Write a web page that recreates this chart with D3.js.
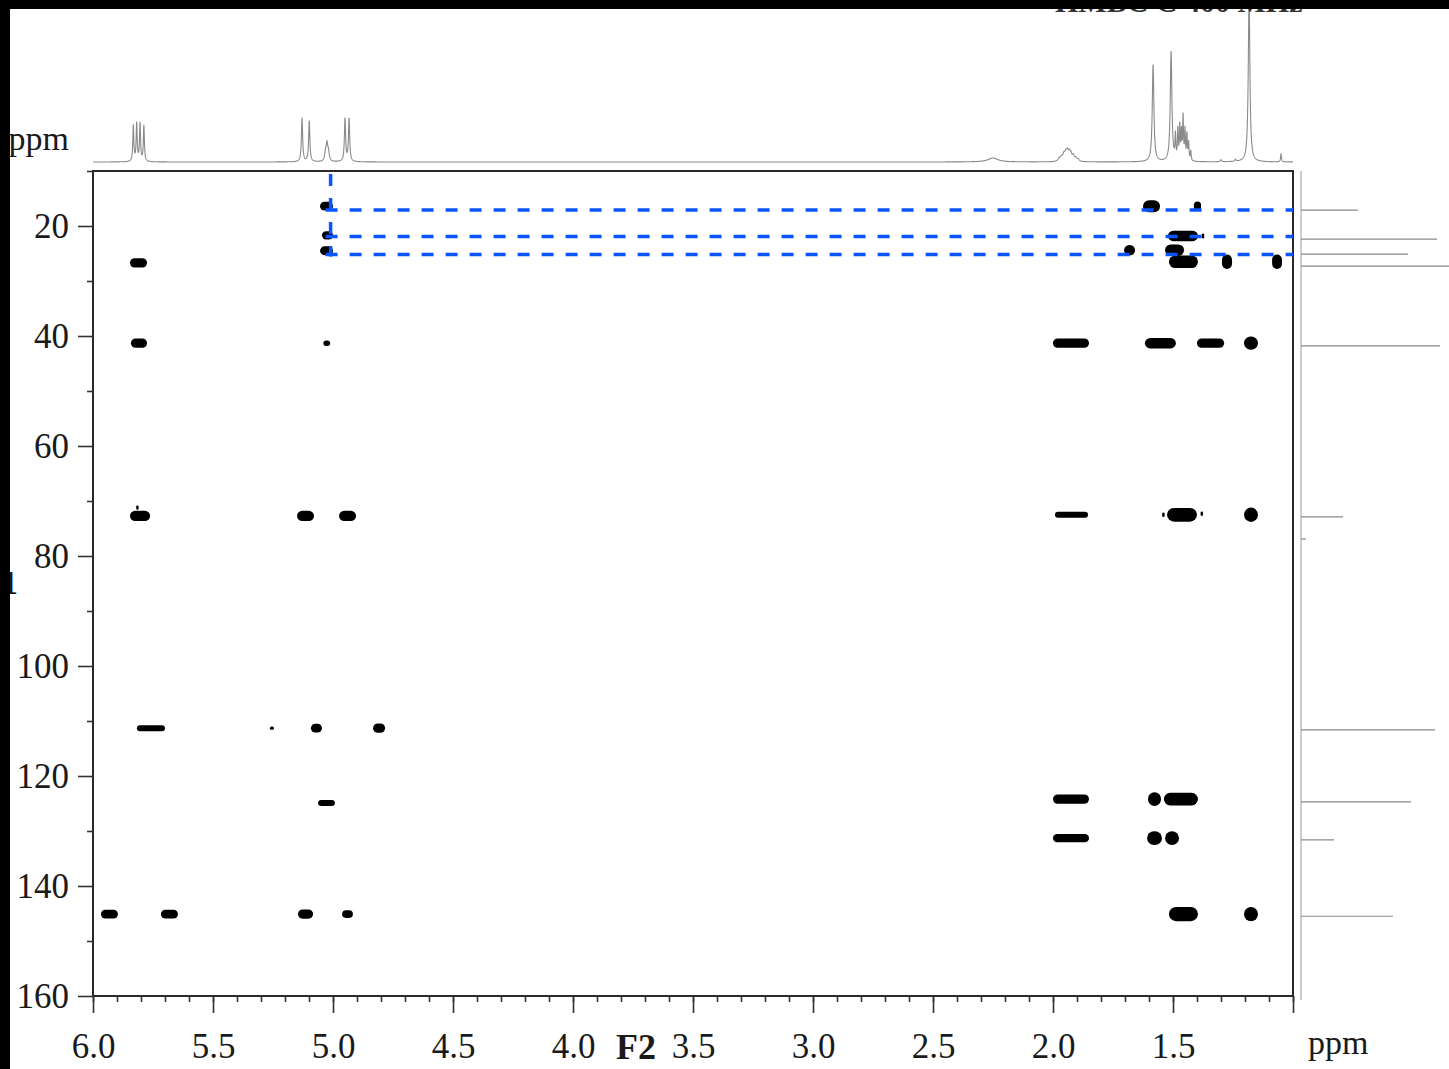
<!DOCTYPE html>
<html><head><meta charset="utf-8">
<script src="https://cdn.jsdelivr.net/npm/d3@7"></script>
<style>html,body{margin:0;padding:0;background:#fff;overflow:hidden}</style>
</head><body>
<svg id="c" width="1449" height="1069"></svg>
<script>
// ---------- data (ppm) ----------
const f2MajorTicks = [6.0, 5.5, 5.0, 4.5, 4.0, 3.5, 3.0, 2.5, 2.0, 1.5, 1.0];
const f2TickLabels = ["6.0", "5.5", "5.0", "4.5", "4.0", "3.5", "3.0", "2.5", "2.0", "1.5", ""];
const f1MajorTicks = [20, 40, 60, 80, 100, 120, 140, 160];
const f1TickLabels = ["20", "40", "60", "80", "100", "120", "140", "160"];

// 1H projection (top): shift, intensity, half width
const protonShifts  = [5.832, 5.818, 5.804, 5.788, 5.129, 5.099, 5.031, 5.025, 5.019, 4.950, 4.933,
                       2.250, 1.975, 1.965, 1.955, 1.947, 1.940, 1.932, 1.925, 1.915, 1.905, 1.895,
                       1.583, 1.508, 1.490, 1.480, 1.472, 1.465, 1.458, 1.450, 1.442, 1.435, 1.426, 1.300, 1.240, 1.183, 1.050];
const protonHeights = [36, 38, 38, 36, 44, 41, 8, 16, 8, 43, 43,
                       4, 3, 4, 6, 7, 8, 7, 6, 5, 3, 2,
                       97, 110, 24, 30, 34, 28, 44, 30, 26, 18, 10, 2, 2, 165, 8];
const protonWidths  = [0.0025, 0.0025, 0.0025, 0.0025, 0.003, 0.003, 0.004, 0.004, 0.004, 0.003, 0.003,
                       0.025, 0.005, 0.005, 0.005, 0.005, 0.005, 0.005, 0.005, 0.005, 0.005, 0.005,
                       0.004, 0.004, 0.002, 0.002, 0.002, 0.002, 0.002, 0.002, 0.002, 0.002, 0.002, 0.003, 0.003, 0.004, 0.002];

// 13C projection (right)
const carbonShifts  = [17.1, 22.4, 25.1, 27.3, 41.8, 72.9, 76.9, 111.6, 124.7, 131.6, 145.5];
const carbonHeights = [57, 136, 107, 160, 139, 42, 5, 134, 110, 33, 92];

// HMBC cross peaks: [F2 start, F2 end, F1, F1 linewidth]
const crossPeaks = [
  [5.846, 5.775, 26.7, 1.7], [5.842, 5.775, 41.3, 1.7], [5.846, 5.762, 72.7, 1.9], [5.82, 5.81, 71.2, 0.8],
  [5.817, 5.700, 111.3, 1.1], [5.967, 5.896, 145.1, 1.6], [5.717, 5.646, 145.1, 1.6],
  [5.054, 5.000, 16.4, 1.6], [5.046, 5.000, 21.7, 1.5], [5.054, 5.000, 24.5, 1.6], [5.040, 5.012, 41.3, 1.0],
  [5.150, 5.079, 72.7, 1.9], [4.975, 4.904, 72.7, 1.9], [5.146, 5.083, 145.1, 1.7], [4.962, 4.917, 145.1, 1.4],
  [5.263, 5.246, 111.3, 0.6], [5.092, 5.046, 111.3, 1.6], [4.833, 4.783, 111.3, 1.7], [5.062, 4.992, 124.9, 1.1],
  [1.625, 1.554, 16.4, 2.2], [1.413, 1.383, 16.4, 1.7],
  [1.521, 1.396, 21.8, 1.9], [1.380, 1.370, 21.8, 0.9],
  [1.704, 1.658, 24.4, 1.9], [1.533, 1.454, 24.4, 2.1],
  [1.517, 1.396, 26.5, 2.3], [1.296, 1.254, 26.5, 2.6], [1.087, 1.046, 26.5, 2.6],
  [2.000, 1.850, 41.3, 1.7], [1.617, 1.488, 41.3, 1.9], [1.400, 1.287, 41.3, 1.7], [1.204, 1.146, 41.3, 2.4],
  [1.992, 1.854, 72.5, 1.1], [1.545, 1.535, 72.5, 0.8], [1.525, 1.400, 72.5, 2.5], [1.385, 1.375, 72.3, 0.8], [1.204, 1.146, 72.5, 2.6],
  [2.000, 1.850, 124.2, 1.7], [1.604, 1.550, 124.2, 2.5], [1.538, 1.396, 124.2, 2.3],
  [2.000, 1.850, 131.3, 1.5], [1.608, 1.546, 131.3, 2.5], [1.533, 1.475, 131.3, 2.5],
  [1.517, 1.396, 145.1, 2.6], [1.204, 1.146, 145.1, 2.6]
];

// highlighted correlations (blue dashed guides)
const guideF2 = 5.01;
const guideF1 = [17.1, 21.9, 25.2];

// ---------- drawing ----------
const svg = d3.select("#c");
const serif = "'Liberation Serif','Times New Roman',serif";
const x = d3.scaleLinear().domain([6.0, 1.0]).range([93, 1293]);
const y = d3.scaleLinear().domain([10, 160]).range([171, 996]);

svg.append("rect").attr("width", 1449).attr("height", 1069).attr("fill", "#fff");

// top 1H trace
const hScale = d3.scaleLinear().domain([0, 100]).range([162, 62]);
const samples = d3.range(6.0, 0.9999, -0.0007);
const trace = samples.map(p => {
  let s = 0;
  for (let i = 0; i < protonShifts.length; i++) {
    const d = (p - protonShifts[i]) / protonWidths[i];
    s += protonHeights[i] / (1 + d * d);
  }
  return [p, s];
});
svg.append("path").datum(trace)
  .attr("fill", "none").attr("stroke", "#8a8a8a").attr("stroke-width", 1.1)
  .attr("d", d3.line().x(d => x(d[0])).y(d => Math.max(0, hScale(d[1]))));

// right 13C projection
const cScale = d3.scaleLinear().domain([0, 100]).range([1301, 1401]);
svg.append("line").attr("x1", cScale(0)).attr("x2", cScale(0)).attr("y1", y(10)).attr("y2", y(160) + 4)
  .attr("stroke", "#999").attr("stroke-width", 1);
svg.append("g").selectAll("line").data(carbonShifts).join("line")
  .attr("x1", cScale(0)).attr("x2", (d, i) => cScale(carbonHeights[i]))
  .attr("y1", d => y(d)).attr("y2", d => y(d))
  .attr("stroke", "#8a8a8a").attr("stroke-width", 1.2);

// axes
const xAxis = svg.append("g").attr("transform", `translate(0,${y(160)})`)
  .call(d3.axisBottom(x).tickValues(f2MajorTicks).tickSize(17).tickSizeOuter(0).tickPadding(20)
    .tickFormat((d, i) => f2TickLabels[i]));
const xMinor = svg.append("g").attr("transform", `translate(0,${y(160)})`)
  .call(d3.axisBottom(x).tickValues(d3.range(60, 9, -1).map(v => v / 10)).tickSize(6).tickSizeOuter(0).tickFormat(""));
const yAxis = svg.append("g").attr("transform", `translate(${x(6.0)},0)`)
  .call(d3.axisLeft(y).tickValues(f1MajorTicks).tickSize(15).tickSizeOuter(0).tickPadding(9)
    .tickFormat((d, i) => f1TickLabels[i]));
const yMinor = svg.append("g").attr("transform", `translate(${x(6.0)},0)`)
  .call(d3.axisLeft(y).tickValues(d3.range(10, 160, 20)).tickSize(6).tickSizeOuter(0).tickFormat(""));
[xAxis, xMinor, yAxis, yMinor].forEach(g => {
  g.select(".domain").remove();
  g.selectAll(".tick line").attr("stroke", "#333").attr("stroke-width", 1.6);
  g.selectAll("text").attr("font-family", serif).attr("font-size", 35).attr("fill", "#1a1a1a");
});

// frame
svg.append("rect").attr("x", x(6.0)).attr("y", y(10)).attr("width", x(1.0) - x(6.0)).attr("height", y(160) - y(10))
  .attr("fill", "none").attr("stroke", "#2a2a2a").attr("stroke-width", 2);

// cross peaks
svg.append("g").selectAll("rect").data(crossPeaks).join("rect")
  .attr("x", d => x(d[0]))
  .attr("width", d => Math.max(2, x(d[1]) - x(d[0])))
  .attr("y", d => y(d[2] - d[3] / 2))
  .attr("height", d => y(d[2] + d[3] / 2) - y(d[2] - d[3] / 2))
  .attr("rx", d => Math.min((x(d[1]) - x(d[0])) / 2, (y(d[2] + d[3] / 2) - y(d[2] - d[3] / 2)) / 2))
  .attr("fill", "#000");

// blue dashed guides
const blue = "#0a55ff";
svg.append("line").attr("x1", x(guideF2)).attr("x2", x(guideF2))
  .attr("y1", y(10) + 3).attr("y2", y(d3.max(guideF1)) + 2)
  .attr("stroke", blue).attr("stroke-width", 3.5).attr("stroke-dasharray", "12,12");
svg.append("g").selectAll("line").data(guideF1).join("line")
  .attr("x1", x(guideF2) - 5).attr("x2", x(1.0))
  .attr("y1", d => y(d)).attr("y2", d => y(d))
  .attr("stroke", blue).attr("stroke-width", 3.5).attr("stroke-dasharray", "12,12");

// labels
svg.append("text").attr("x", 69).attr("y", 150).attr("text-anchor", "end")
  .attr("font-family", serif).attr("font-size", 34).attr("fill", "#1a1a1a").text("ppm");
svg.append("text").attr("x", 1308).attr("y", 1054)
  .attr("font-family", serif).attr("font-size", 34).attr("fill", "#1a1a1a").text("ppm");
svg.append("text").attr("x", 636).attr("y", 1059).attr("text-anchor", "middle")
  .attr("font-family", serif).attr("font-size", 36).attr("font-weight", "bold").attr("fill", "#1a1a1a").text("F2");
svg.append("text").attr("x", 18).attr("y", 594).attr("text-anchor", "end")
  .attr("font-family", serif).attr("font-size", 34).attr("font-weight", "bold").attr("fill", "#1a1a1a").text("F1");
svg.append("text").attr("x", 1055).attr("y", 12)
  .attr("font-family", serif).attr("font-size", 30).attr("font-weight", "bold").attr("fill", "#333").text("HMBC C 400 MHz");

// black borders of the cropped image
svg.append("rect").attr("x", 0).attr("y", 0).attr("width", 1449).attr("height", 9).attr("fill", "#000");
svg.append("rect").attr("x", 0).attr("y", 0).attr("width", 10).attr("height", 1069).attr("fill", "#000");
</script>
</body></html>
